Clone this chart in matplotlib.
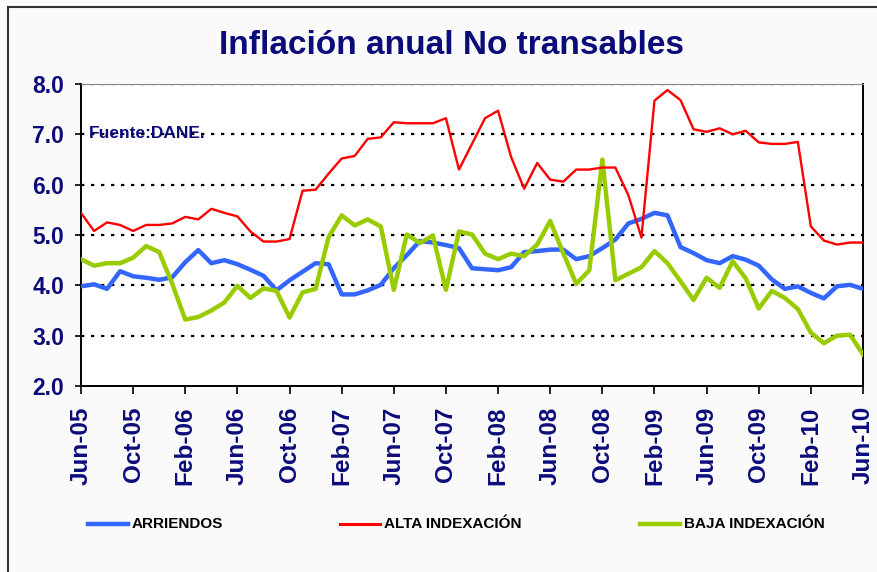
import matplotlib.pyplot as plt
import matplotlib.patches as mpatches
from matplotlib.lines import Line2D

# monthly data, Jun-05 .. Jun-10
months = ["Jun-05", "Jul-05", "Aug-05", "Sep-05", "Oct-05", "Nov-05", "Dec-05",
          "Jan-06", "Feb-06", "Mar-06", "Apr-06", "May-06", "Jun-06", "Jul-06",
          "Aug-06", "Sep-06", "Oct-06", "Nov-06", "Dec-06", "Jan-07", "Feb-07",
          "Mar-07", "Apr-07", "May-07", "Jun-07", "Jul-07", "Aug-07", "Sep-07",
          "Oct-07", "Nov-07", "Dec-07", "Jan-08", "Feb-08", "Mar-08", "Apr-08",
          "May-08", "Jun-08", "Jul-08", "Aug-08", "Sep-08", "Oct-08", "Nov-08",
          "Dec-08", "Jan-09", "Feb-09", "Mar-09", "Apr-09", "May-09", "Jun-09",
          "Jul-09", "Aug-09", "Sep-09", "Oct-09", "Nov-09", "Dec-09", "Jan-10",
          "Feb-10", "Mar-10", "Apr-10", "May-10", "Jun-10"]

arriendos = [3.98, 4.02, 3.93, 4.28, 4.18, 4.15, 4.11, 4.16, 4.46, 4.70,
             4.44, 4.50, 4.42, 4.31, 4.19, 3.90, 4.10, 4.27, 4.44, 4.42,
             3.82, 3.82, 3.90, 4.01, 4.34, 4.60, 4.88, 4.85, 4.80, 4.74,
             4.34, 4.32, 4.30, 4.36, 4.66, 4.68, 4.71, 4.71, 4.52, 4.58,
             4.74, 4.91, 5.23, 5.32, 5.44, 5.39, 4.76, 4.64, 4.50, 4.44,
             4.58, 4.51, 4.39, 4.12, 3.93, 3.98, 3.85, 3.74, 3.98, 4.01, 3.93]

alta = [5.44, 5.08, 5.25, 5.20, 5.08, 5.20, 5.20, 5.23, 5.36, 5.31,
        5.52, 5.44, 5.37, 5.07, 4.87, 4.87, 4.92, 5.88, 5.90, 6.22,
        6.52, 6.57, 6.91, 6.94, 7.24, 7.22, 7.22, 7.22, 7.32, 6.30,
        6.81, 7.32, 7.47, 6.55, 5.92, 6.43, 6.10, 6.06, 6.30, 6.30,
        6.34, 6.34, 5.79, 4.95, 7.67, 7.88, 7.68, 7.10, 7.05, 7.12,
        7.00, 7.07, 6.84, 6.81, 6.81, 6.85, 5.17, 4.89, 4.81, 4.85, 4.85]

baja = [4.52, 4.39, 4.44, 4.44, 4.55, 4.78, 4.66, 4.03, 3.32, 3.37,
        3.50, 3.66, 3.99, 3.75, 3.94, 3.89, 3.36, 3.86, 3.93, 4.96,
        5.39, 5.19, 5.31, 5.17, 3.91, 5.01, 4.84, 4.99, 3.91, 5.07,
        5.01, 4.63, 4.52, 4.63, 4.58, 4.81, 5.28, 4.64, 4.03, 4.30,
        6.50, 4.10, 4.23, 4.36, 4.68, 4.44, 4.08, 3.71, 4.15, 3.95,
        4.48, 4.14, 3.54, 3.89, 3.75, 3.53, 3.06, 2.85, 3.00, 3.02, 2.63]

yticks = [2.0, 3.0, 4.0, 5.0, 6.0, 7.0, 8.0]

navy = "#0b0b7a"
fig = plt.figure(figsize=(8.77, 5.72), dpi=100)
fig.patch.set_facecolor("#fafafa")
# frame around slide
fig.add_artist(mpatches.Rectangle((8 / 877, -0.01), 1.0, 1 - 7 / 572 + 0.01,
                                  transform=fig.transFigure, fill=False,
                                  edgecolor="#333333", lw=1.5))

ax = fig.add_axes([81 / 877, 1 - 386 / 572, (863 - 81) / 877, (386 - 84) / 572])
ax.set_facecolor("white")
x = list(range(len(months)))

ax.plot(x, arriendos, color="#3366ff", lw=3.2, zorder=3)
ax.plot(x, baja, color="#99cc00", lw=3.2, zorder=4)
ax.plot(x, alta, color="#ff0000", lw=1.7, zorder=5)

ax.set_xlim(0, len(months) - 1)
ax.set_ylim(2.0, 8.0)
ax.set_yticks(yticks)
ax.set_yticklabels([f"{v:.1f}" for v in yticks], fontsize=16.5, fontweight="bold",
                   color=navy, family="Liberation Sans")
ax.set_xticks(x[::4])
ax.set_xticklabels(months[::4], rotation=90, fontsize=17.5, fontweight="bold",
                   color=navy, family="Liberation Sans")
ax.tick_params(axis="y", direction="out", length=4, width=1.2, color="black", pad=8)
ax.tick_params(axis="x", direction="out", length=5.5, width=1.2, color="black", pad=9)
for y in yticks[1:]:
    ax.axhline(y, color="black", lw=1.6, ls=(0, (1.5, 3)), zorder=1)
for s in ["left", "bottom", "right"]:
    ax.spines[s].set_linewidth(1.4)
ax.spines["top"].set_color("#888888")
ax.spines["top"].set_linewidth(0.8)

ax.text(0.01, 0.835, "Fuente:DANE.", transform=ax.transAxes, fontsize=12.5,
        fontweight="bold", color=navy, va="center", ha="left",
        family="Liberation Sans")

fig.text(452 / 877, 1 - 45 / 572, "Inflación anual No transables", ha="center",
         va="center", fontsize=24, fontweight="bold", color=navy,
         family="Liberation Sans")

handles = [Line2D([], [], color="#3366ff", lw=3.2),
           Line2D([], [], color="#ff0000", lw=2.2),
           Line2D([], [], color="#99cc00", lw=3.2)]
names = ["ARRIENDOS", "ALTA INDEXACIÓN", "BAJA INDEXACIÓN"]
xs = [88, 340, 640]
for h, n, xp in zip(handles, names, xs):
    fig.add_artist(Line2D([xp / 877, (xp + 40) / 877], [1 - 524 / 572] * 2,
                          color=h.get_color(), lw=h.get_linewidth(),
                          transform=fig.transFigure))
    fig.text((xp + 44) / 877, 1 - 524 / 572, n, ha="left", va="center",
             fontsize=11, fontweight="bold", color="black",
             family="Liberation Sans")

fig.savefig("out.png", dpi=100, facecolor=fig.get_facecolor())
